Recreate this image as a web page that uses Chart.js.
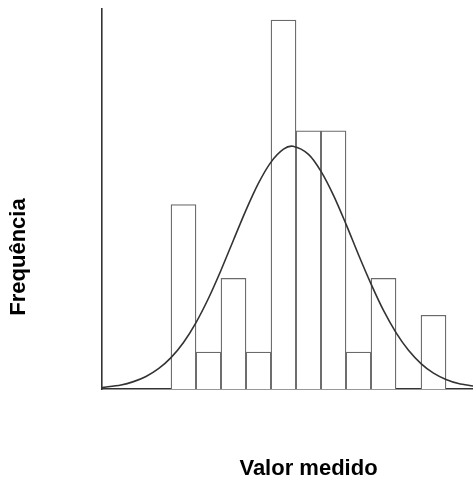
<!DOCTYPE html>
<html>
<head>
<meta charset="utf-8">
<script src="https://cdn.jsdelivr.net/npm/chart.js@4/dist/chart.umd.min.js"></script>
<style>
  html, body { margin: 0; padding: 0; background: #fff; }
  #wrap { width: 473px; height: 482px; position: relative; }
</style>
</head>
<body>
<div id="wrap"><canvas id="c"></canvas></div>
<script>
// Histogram bins (bin centres, bin width 1) and counts
const binCenters = [0.5, 1.5, 2.5, 3.5, 4.5, 5.5, 6.5, 7.5, 8.5, 9.5, 10.5];
const counts     = [5, 1, 3, 1, 10, 7, 7, 1, 3, 0, 2];

// Fitted normal curve
const curveX = [-2.76, -2, -1.5, -1, -0.5, 0, 0.5, 1, 1.5, 2, 2.5, 3, 3.5, 4, 4.5, 4.88, 5.5, 6, 6.5, 7, 7.5, 8, 8.5, 9, 9.5, 10, 10.5, 11, 11.5, 12.08];
const curveY = [0.04, 0.11, 0.2, 0.34, 0.55, 0.85, 1.26, 1.8, 2.46, 3.22, 4.04, 4.85, 5.58, 6.15, 6.5, 6.58, 6.36, 5.9, 5.25, 4.47, 3.64, 2.85, 2.13, 1.53, 1.05, 0.69, 0.43, 0.26, 0.15, 0.08];

const xTitle = "Valor medido";
const yTitle = "Frequência";

const barData = binCenters.map((x, i) => ({ x: x, y: counts[i] }));
const curveData = curveX.map((x, i) => ({ x: x, y: curveY[i] }));

const titlePlugin = {
  id: 'titles',
  afterDraw(chart) {
    const ctx = chart.ctx;
    ctx.save();
    ctx.fillStyle = '#000';
    ctx.font = 'bold 22px "Liberation Sans", Arial, sans-serif';
    ctx.textAlign = 'center';
    ctx.textBaseline = 'middle';
    ctx.fillText(xTitle, 308.5, 469);
    ctx.translate(19, 257);
    ctx.rotate(-Math.PI / 2);
    ctx.fillText(yTitle, 0, 0);
    ctx.restore();
  }
};

new Chart(document.getElementById('c'), {
  type: 'bar',
  data: {
    datasets: [
      {
        type: 'line',
        data: curveData,
        borderColor: '#333',
        borderWidth: 1.6,
        pointRadius: 0,
        fill: false,
        tension: 0.3,
        order: 0
      },
      {
        type: 'bar',
        data: barData,
        backgroundColor: '#ffffff',
        borderColor: '#6a6a6a',
        borderWidth: 1.3,
        barPercentage: 1.0,
        categoryPercentage: 1.0,
        borderSkipped: 'start',
        order: 1
      }
    ]
  },
  options: {
    responsive: true,
    maintainAspectRatio: false,
    animation: false,
    layout: { padding: { left: 102, right: 0, top: 9, bottom: 93 } },
    plugins: { legend: { display: false }, tooltip: { enabled: false } },
    scales: {
      x: {
        type: 'linear',
        min: -2.76,
        max: 12.08,
        offset: false,
        ticks: { display: false },
        grid: { display: false, drawTicks: false },
        border: { display: true, color: '#333', width: 1.6 }
      },
      y: {
        min: 0,
        max: 10.3,
        ticks: { display: false },
        grid: { display: false, drawTicks: false },
        border: { display: true, color: '#333', width: 1.6 }
      }
    }
  },
  plugins: [titlePlugin]
});
</script>
</body>
</html>
